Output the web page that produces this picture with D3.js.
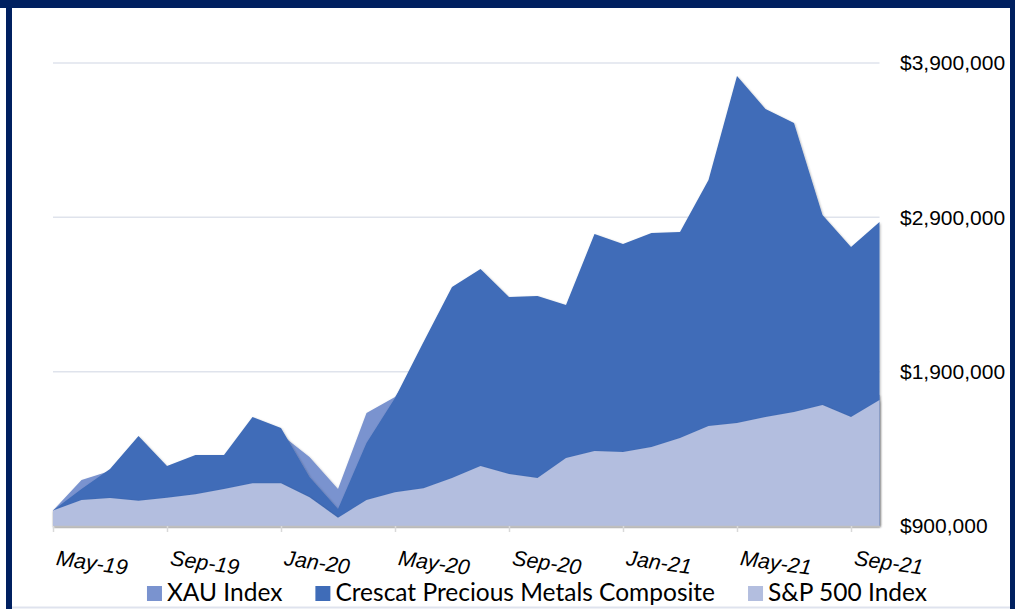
<!DOCTYPE html>
<html>
<head>
<meta charset="utf-8">
<script src="https://cdn.jsdelivr.net/npm/d3@7"></script>
<style>
    html, body { margin: 0; padding: 0; background: #ffffff; }
    svg { display: block; font-family: Lato, "Liberation Sans", sans-serif; }
</style>
</head>
<body>
<script>
"use strict";

// Months on the category axis (May-19 .. Oct-21)
const months = ["May-19", "Jun-19", "Jul-19", "Aug-19", "Sep-19", "Oct-19", "Nov-19", "Dec-19",
    "Jan-20", "Feb-20", "Mar-20", "Apr-20", "May-20", "Jun-20", "Jul-20", "Aug-20",
    "Sep-20", "Oct-20", "Nov-20", "Dec-20", "Jan-21", "Feb-21", "Mar-21", "Apr-21",
    "May-21", "Jun-21", "Jul-21", "Aug-21", "Sep-21", "Oct-21"];

// Growth of $1,000,000 for each series
const xauIndex = [1000000, 1198000, 1256000, 1300000, 1250000, 1300000, 1330000, 1480000,
    1493000, 1347000, 1140000, 1632000, 1736000, 2000000, 2250000, 2300000,
    2050000, 2000000, 1950000, 2200000, 2000000, 1900000, 1850000, 2050000,
    2250000, 2150000, 2050000, 1800000, 1650000, 1750000];

const crescat = [1000000, 1140000, 1269000, 1483000, 1289000, 1360000, 1360000, 1606000,
    1535000, 1217000, 1010000, 1438000, 1729000, 2092000, 2449000, 2565000,
    2384000, 2390000, 2332000, 2792000, 2727000, 2799000, 2805000, 3142000,
    3816000, 3602000, 3511000, 2915000, 2708000, 2870000];

const sp500 = [1000000, 1068000, 1081000, 1064000, 1083000, 1105000, 1140000, 1177000,
    1177000, 1086000, 954000, 1068000, 1118000, 1144000, 1211000, 1289000,
    1237000, 1211000, 1341000, 1386000, 1379000, 1412000, 1470000, 1548000,
    1567000, 1606000, 1639000, 1684000, 1606000, 1716000];

const xTickLabels = ["May-19", "Sep-19", "Jan-20", "May-20", "Sep-20", "Jan-21", "May-21", "Sep-21"];
const yTicks = [900000, 1900000, 2900000, 3900000];

const seriesNames = ["XAU Index", "Crescat Precious Metals Composite", "S&P 500 Index"];

(function(){
    const measurements = {
        width: 1015,
        height: 609,
        left: 53,
        right: 879.5,
        top: 63,
        bottom: 526
    }

    const colors = {
        "XAU Index": "#7a93cf",
        "Crescat Precious Metals Composite": "#3f6cb8",
        "S&P 500 Index": "#b3bedf"
    }

    const svg = d3.select("body").append("svg")
        .attr("width", measurements.width)
        .attr("height", measurements.height);

    // soft shadow like the office chart
    const defs = svg.append("defs");
    defs.append("filter")
        .attr("id", "shadow")
        .attr("x", "-5%").attr("y", "-5%")
        .attr("width", "110%").attr("height", "110%")
        .append("feDropShadow")
        .attr("dx", 0.8)
        .attr("dy", 1)
        .attr("stdDeviation", 1.2)
        .attr("flood-color", "#000")
        .attr("flood-opacity", 0.3);

    // Scales
    const scaleX = d3.scalePoint()
        .domain(months)
        .range([measurements.left, measurements.right]);

    const scaleY = d3.scaleLinear()
        .domain([900000, 3900000])
        .range([measurements.bottom, measurements.top]);

    // Gridlines
    svg.append("g")
        .selectAll("line")
        .data(yTicks.slice(1))
        .enter()
        .append("line")
            .attr("x1", measurements.left)
            .attr("x2", measurements.right)
            .attr("y1", d => scaleY(d))
            .attr("y2", d => scaleY(d))
            .attr("stroke", "#dfe3ec")
            .attr("stroke-width", 1.5);

    // Areas, drawn back to front
    const area = d3.area()
        .x((d, i) => scaleX(months[i]))
        .y0(scaleY(900000))
        .y1(d => scaleY(d));

    const layers = [xauIndex, crescat, sp500];
    layers.forEach(function(values, k) {
        svg.append("path")
            .datum(values)
            .attr("d", area)
            .attr("fill", colors[seriesNames[k]])
            .attr("filter", "url(#shadow)");
    });

    // X axis
    const xAxis = d3.axisBottom(scaleX)
        .tickValues(xTickLabels)
        .tickSize(6)
        .tickSizeOuter(0);

    const gx = svg.append("g")
        .attr("transform", "translate(0," + measurements.bottom + ")")
        .call(xAxis);
    gx.select(".domain").attr("stroke", "#bfbfbf").attr("stroke-width", 1.5);
    gx.selectAll(".tick line").attr("stroke", "#d9d9d9").attr("stroke-width", 1.5);
    gx.selectAll(".tick text")
        .attr("text-anchor", "start")
        .attr("font-size", 21.5)
        .attr("font-style", "italic")
        .attr("fill", "#000")
        .attr("x", 2)
        .attr("y", 39)
        .attr("dy", 0)
        .attr("transform", "rotate(8, 2, 39)");

    // Y axis on the right
    const yAxis = d3.axisRight(scaleY)
        .tickValues(yTicks)
        .tickSize(0)
        .tickFormat(d => "$" + d3.format(",")(d));

    const gy = svg.append("g")
        .attr("transform", "translate(900,0)")
        .call(yAxis);
    gy.select(".domain").remove();
    gy.selectAll(".tick text")
        .attr("x", 0)
        .attr("font-size", 21)
        .attr("fill", "#000");

    // Legend
    const legend = svg.append("g");
    let xPos = 0;
    seriesNames.forEach(function(name) {
        const item = legend.append("g").attr("transform", "translate(" + xPos + ",0)");
        item.append("rect")
            .attr("x", 0)
            .attr("y", 586)
            .attr("width", 15)
            .attr("height", 15)
            .attr("fill", colors[name]);
        const label = item.append("text")
            .attr("x", 20)
            .attr("y", 601)
            .attr("font-size", 24.5)
            .attr("fill", "#000")
            .text(name);
        xPos += 20 + label.node().getComputedTextLength() + 33;
    });
    const legendWidth = xPos - 33;
    legend.attr("transform", "translate(" + (537 - legendWidth / 2) + ",0)");

    // Frame
    svg.append("rect").attr("x", 0).attr("y", 0).attr("width", 1015).attr("height", 8).attr("fill", "#002060");
    svg.append("rect").attr("x", 6).attr("y", 0).attr("width", 6).attr("height", 609).attr("fill", "#002060");
    svg.append("rect").attr("x", 1010).attr("y", 0).attr("width", 5).attr("height", 609).attr("fill", "#002060");
    svg.append("line")
        .attr("x1", 12).attr("x2", 1010)
        .attr("y1", 607.5).attr("y2", 607.5)
        .attr("stroke", "#dfe3ee")
        .attr("stroke-width", 2);
})()
</script>
</body>
</html>
